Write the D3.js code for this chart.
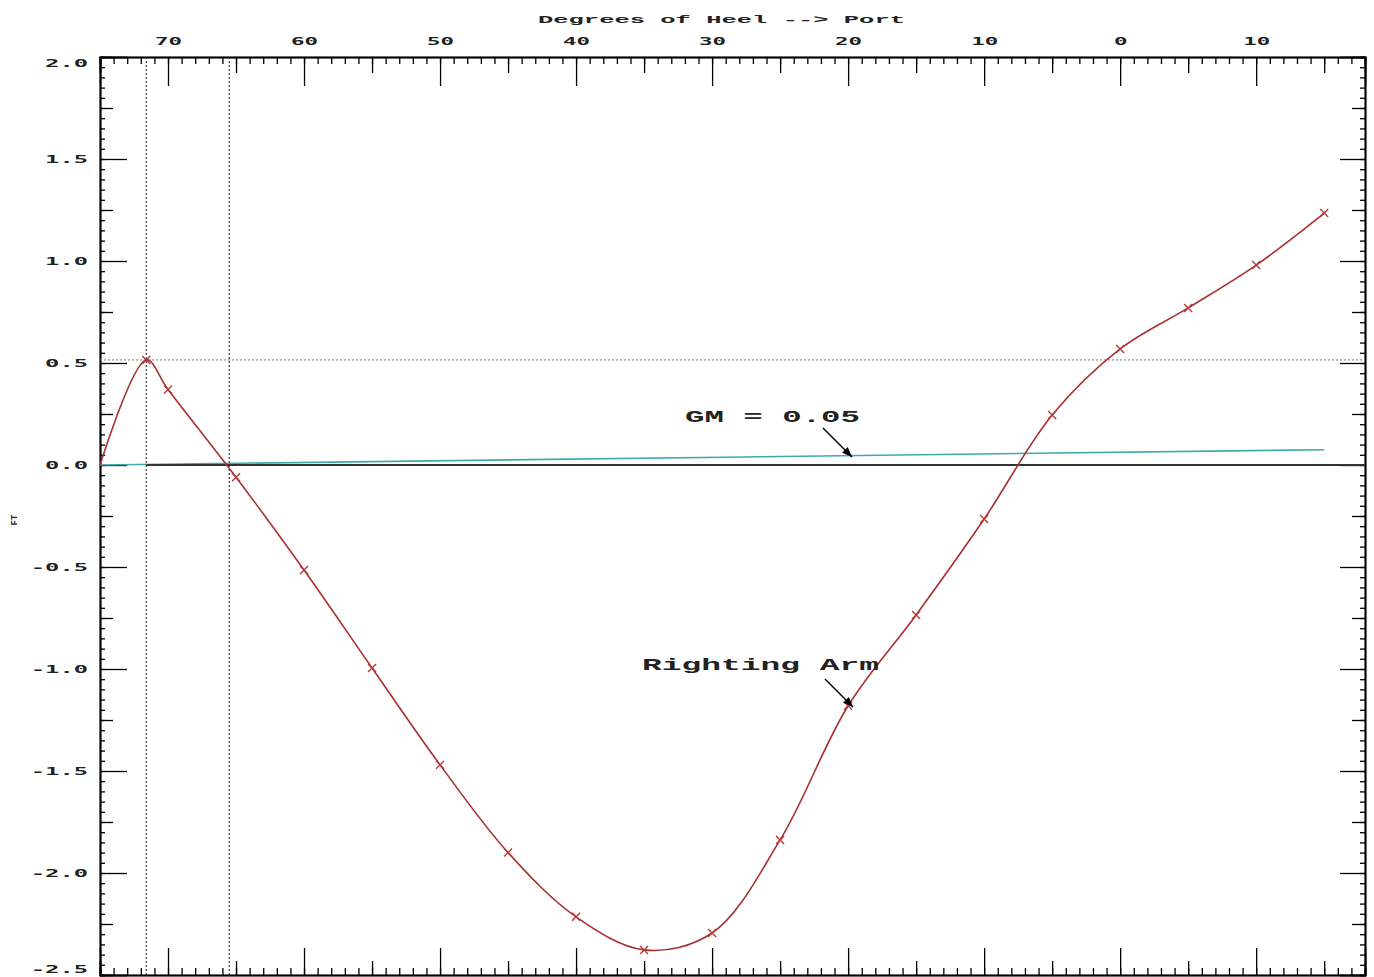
<html>
<head>
<script src="https://d3js.org/d3.v7.min.js"></script>
<style>
  body { margin: 0; background: #fff; }
  .tick text { font-family: "DejaVu Sans Mono", monospace; font-weight: bold; fill: #222; }
  .domain { stroke: #000; stroke-width: 1.5px; }
  .tick line { stroke: #000; stroke-width: 1.3px; }
  .note { font-family: "Liberation Mono", monospace; font-weight: bold; fill: #222; }
</style>
</head>
<body>
<svg id="chart" width="1374" height="977"></svg>
<script>
// righting arm curve
const heel = [75, 71.6, 70, 65, 60, 55, 50, 45, 40, 35, 30, 25, 20, 15, 10, 5, 0, -5, -10, -15];
const rightingArm = [0, 0.515, 0.37, -0.06, -0.515, -0.995, -1.47, -1.9, -2.215, -2.377, -2.294, -1.838, -1.18, -0.735, -0.265, 0.245, 0.569, 0.77, 0.98, 1.235];
// GM line
const gmHeel = [75, -15];
const gmValue = [0, 0.075];
// reference lines
const peakHeel = 71.6;
const crossHeel = 65.5;
const peakValue = 0.515;
const xTicks = [70, 60, 50, 40, 30, 20, 10, 0, -10];
const yTicks = [2.0, 1.5, 1.0, 0.5, 0.0, -0.5, -1.0, -1.5, -2.0, -2.5];

const svg = d3.select("#chart");
const margin = { top: 57, right: 9, bottom: 2, left: 100 };
const width = 1374 - margin.left - margin.right;
const height = 977 - margin.top - margin.bottom;
const g = svg.append("g").attr("transform", `translate(${margin.left},${margin.top})`);

const x = d3.scaleLinear().domain([75, -18]).range([0, width]);
const y = d3.scaleLinear().domain([-2.5, 2.0]).range([height, 0]);

const minorX = d3.range(-18, 76, 1);
const midX = d3.range(-15, 76, 5).filter(d => d % 10 !== 0);

function stretch(sel, perChar) {
    sel.selectAll("text").each(function () {
        const t = d3.select(this);
        t.attr("textLength", t.text().length * perChar).attr("lengthAdjust", "spacingAndGlyphs");
    });
}

// top axis
g.append("g").call(d3.axisTop(x).tickValues(minorX).tickSize(-7).tickFormat(""));
g.append("g").call(d3.axisTop(x).tickValues(midX).tickSize(-16).tickFormat(""));
const topAxis = g.append("g").call(d3.axisTop(x).tickValues(xTicks).tickSize(-29).tickPadding(12).tickFormat(d => Math.abs(d)))
    .attr("font-size", 11);
stretch(topAxis, 13.5);

// bottom axis
const botAxis = g.append("g").attr("transform", `translate(0,${height})`);
botAxis.append("g").call(d3.axisBottom(x).tickValues(minorX).tickSize(-7).tickFormat(""));
botAxis.append("g").call(d3.axisBottom(x).tickValues(midX).tickSize(-14).tickFormat(""));
botAxis.append("g").call(d3.axisBottom(x).tickValues(xTicks).tickSize(-27).tickFormat(""));

// left axis
const minorY = d3.range(-50, 41, 1).map(d => d * 0.05);
const midY = d3.range(-10, 9, 1).map(d => d * 0.25).filter(d => Math.abs(d * 2 - Math.round(d * 2)) > 0.01);
g.append("g").call(d3.axisLeft(y).tickValues(minorY).tickSize(-5).tickFormat(""));
g.append("g").call(d3.axisLeft(y).tickValues(midY).tickSize(-13).tickFormat(""));
const leftAxis = g.append("g").call(d3.axisLeft(y).tickValues(yTicks).tickSize(-27).tickPadding(12).tickFormat(d => d.toFixed(1)))
    .attr("font-size", 10);
stretch(leftAxis, 14.3);
// end labels sit inside the frame
leftAxis.selectAll(".tick text")
    .attr("dy", d => d === 2.0 ? "0.95em" : d === -2.5 ? "-0.25em" : "0.32em");

// right axis
const rightAxis = g.append("g").attr("transform", `translate(${width},0)`);
rightAxis.append("g").call(d3.axisRight(y).tickValues(minorY).tickSize(-5).tickFormat(""));
rightAxis.append("g").call(d3.axisRight(y).tickValues(midY).tickSize(-13).tickFormat(""));
rightAxis.append("g").call(d3.axisRight(y).tickValues(yTicks).tickSize(-25).tickFormat(""));

// titles
svg.append("text").attr("class", "note")
    .attr("x", 538).attr("y", 23)
    .attr("font-size", 11).attr("font-family", "DejaVu Sans Mono")
    .attr("textLength", 367).attr("lengthAdjust", "spacingAndGlyphs")
    .text("Degrees of Heel --> Port");
svg.append("text").attr("class", "note")
    .attr("transform", "translate(17,520) rotate(-90)")
    .attr("text-anchor", "middle").attr("font-size", 9)
    .text("FT");

// reference lines
g.append("line")
    .attr("x1", 0).attr("x2", width)
    .attr("y1", y(peakValue)).attr("y2", y(peakValue))
    .attr("stroke", "#777").attr("stroke-dasharray", "2,2");
[peakHeel, crossHeel].forEach(h => {
    g.append("line")
        .attr("x1", x(h)).attr("x2", x(h))
        .attr("y1", 0).attr("y2", height)
        .attr("stroke", "#111").attr("stroke-dasharray", "2,2");
});

// GM line
const gmData = gmHeel.map((h, i) => [h, gmValue[i]]);
g.append("path").datum(gmData)
    .attr("fill", "none").attr("stroke", "#3aacac").attr("stroke-width", 1.6)
    .attr("d", d3.line().x(d => x(d[0])).y(d => y(d[1])));

// zero line
g.append("line")
    .attr("x1", x(peakHeel)).attr("x2", width)
    .attr("y1", y(0)).attr("y2", y(0))
    .attr("stroke", "#333").attr("stroke-width", 2);

// righting arm
const raData = heel.map((h, i) => [h, rightingArm[i]]);
g.append("path").datum(raData)
    .attr("fill", "none").attr("stroke", "#a83030").attr("stroke-width", 1.6)
    .attr("d", d3.line().x(d => x(d[0])).y(d => y(d[1])).curve(d3.curveCatmullRom));
g.selectAll("path.mark").data(raData.slice(1))
    .join("path")
    .attr("class", "mark")
    .attr("transform", d => `translate(${x(d[0])},${y(d[1])})`)
    .attr("d", "M-4,-4L4,4M-4,4L4,-4")
    .attr("stroke", "#b83838").attr("stroke-width", 1.4);

// annotations
svg.append("defs").append("marker")
    .attr("id", "head").attr("viewBox", "0 0 10 10")
    .attr("refX", 10).attr("refY", 5)
    .attr("markerWidth", 14).attr("markerHeight", 10).attr("markerUnits", "userSpaceOnUse")
    .attr("orient", "auto")
    .append("path").attr("d", "M0,1L10,5L0,9Z").attr("fill", "#000");

svg.append("text").attr("class", "note")
    .attr("x", 685).attr("y", 422).attr("font-size", 17)
    .attr("textLength", 175).attr("lengthAdjust", "spacingAndGlyphs")
    .text("GM = 0.05");
svg.append("line")
    .attr("x1", 823).attr("y1", 428).attr("x2", 852).attr("y2", 457)
    .attr("stroke", "#000").attr("stroke-width", 1.5).attr("marker-end", "url(#head)");

svg.append("text").attr("class", "note")
    .attr("x", 642).attr("y", 670).attr("font-size", 17)
    .attr("textLength", 237).attr("lengthAdjust", "spacingAndGlyphs")
    .text("Righting Arm");
svg.append("line")
    .attr("x1", 825).attr("y1", 679).attr("x2", 853).attr("y2", 707)
    .attr("stroke", "#000").attr("stroke-width", 1.5).attr("marker-end", "url(#head)");
</script>
</body>
</html>
